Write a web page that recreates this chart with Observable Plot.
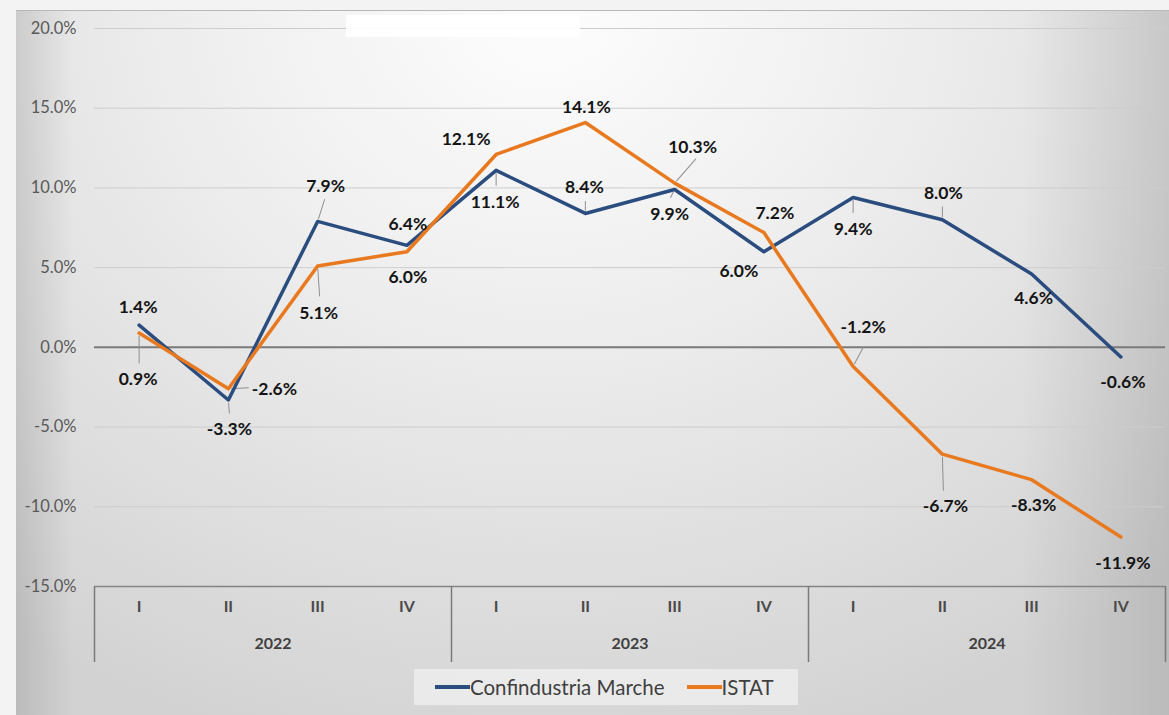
<!DOCTYPE html>
<html>
<head>
<meta charset="utf-8">
<script src="https://cdn.jsdelivr.net/npm/d3@7"></script>
<script src="https://cdn.jsdelivr.net/npm/@observablehq/plot@0.6"></script>
<style>
  html, body { margin: 0; padding: 0; width: 1169px; height: 715px; overflow: hidden; background: #f3f3f3; font-family: Lato, "Noto Sans", sans-serif; }
  #chart {
    position: absolute; left: 16px; top: 10px; width: 1153px; height: 705px;
    background:
      linear-gradient(to right, rgba(0,0,0,0.11) 0%, rgba(0,0,0,0.0) 5%, rgba(0,0,0,0) 87%, rgba(0,0,0,0.11) 100%),
      radial-gradient(ellipse 78% 110% at 46% 0%, #fdfdfd 0%, #f0f0f0 35%, #e0e0e0 70%, #d2d2d2 100%);
    box-shadow: inset 0 1px 0 #b8b8b8;
  }
  #plot { position: absolute; left: 0; top: 0; }
  #mask { position: absolute; left: 330px; top: 5px; width: 234px; height: 22px; background: rgba(255,255,255,0.92); }
  #legend {
    position: absolute; left: 398px; top: 659px; width: 384px; height: 36px;
    background: rgba(240,240,240,0.75);
    display: flex; align-items: center; padding-left: 21px; box-sizing: border-box;
    font-size: 20.5px; color: #404040;
  }
  #legend .sw { display: inline-block; width: 35px; height: 3.5px; margin-right: 0; }
  #legend .item { display: flex; align-items: center; margin-right: 22px; }
</style>
</head>
<body>
<div id="chart">
  <div id="plot"></div>
  <div id="mask"></div>
  <div id="legend"></div>
</div>
<script>
// ---- data ----
const quarters = ["I", "II", "III", "IV", "I", "II", "III", "IV", "I", "II", "III", "IV"];
const years = ["2022", "2022", "2022", "2022", "2023", "2023", "2023", "2023", "2024", "2024", "2024", "2024"];
const confindustria = [1.4, -3.3, 7.9, 6.4, 11.1, 8.4, 9.9, 6.0, 9.4, 8.0, 4.6, -0.6];
const istat = [0.9, -2.6, 5.1, 6.0, 12.1, 14.1, 10.3, 7.2, -1.2, -6.7, -8.3, -11.9];
const yTicks = [-15, -10, -5, 0, 5, 10, 15, 20];
const seriesNames = ["Confindustria Marche", "ISTAT"];

// ---- label placement (pixel offsets from each point) ----
const confLabelOffsets = [[-1,-18],[1,29],[8,-35],[1,-21],[-1,32],[-1,-26],[-5,25],[-25,20],[0,32],[1,-26],[2,24],[2,25]];
const istatLabelOffsets = [[-1,46],[46,1],[1,47],[1,26],[-30,-15],[1,-15],[18,-36],[11,-19],[10,-39],[3,52],[2,26],[2,26]];
const confLeaders = [null,[1,13],[7,-22],null,[0,15],[0,-12],[-4,8],null,[0,15],[0,-13],null,null];
const istatLeaders = [[0,30],[20,-1],[2,30],null,null,null,[21,-24],null,[10,-19],[1,36],null,null];

const BLUE = "#2b4c7e";
const ORANGE = "#e8791f";

const rows = quarters.map((q, i) => ({i, q, year: years[i], conf: confindustria[i], istat: istat[i]}));
const series = [
  {name: seriesNames[0], key: "conf", color: BLUE, offsets: confLabelOffsets, leaders: confLeaders},
  {name: seriesNames[1], key: "istat", color: ORANGE, offsets: istatLabelOffsets, leaders: istatLeaders}
];

const yearGroups = d3.groups(rows, d => d.year).map(([year, ds]) => ({
  year, center: d3.mean(ds, d => d.i), start: d3.min(ds, d => d.i) - 0.5, end: d3.max(ds, d => d.i) + 0.5
}));
const boundaries = Array.from(new Set(yearGroups.flatMap(g => [g.start, g.end])));

const W = 1153, H = 655;
const mT = 18, mB = 79, mL = 78, mR = 4;
const frameH = H - mT - mB;

const leaderShape = {
  draw(context, l) { context.moveTo(0, -Math.min(3, l)); context.lineTo(0, -l); }
};

const fmt = v => v.toFixed(1) + "%";

const leaderMarks = [];
const labelMarks = [];
for (const s of series) {
  rows.forEach((d, idx) => {
    const ld = s.leaders[idx];
    if (ld) {
      const [dx, dy] = ld;
      leaderMarks.push(Plot.vector([d], {
        x: "i", y: s.key, anchor: "start",
        length: Math.hypot(dx, dy),
        rotate: Math.atan2(dx, -dy) * 180 / Math.PI,
        shape: leaderShape, stroke: "#8f8f8f", strokeWidth: 1
      }));
    }
    const [ox, oy] = s.offsets[idx];
    labelMarks.push(Plot.text([d], {
      x: "i", y: s.key, text: dd => fmt(dd[s.key]), dx: ox, dy: oy,
      fontSize: 17.5, fontWeight: "bold", fill: "#141414"
    }));
  });
}

const chart = Plot.plot({
  width: W, height: H,
  marginTop: mT, marginBottom: mB, marginLeft: mL, marginRight: mR,
  style: {fontFamily: "Lato, 'Noto Sans', sans-serif", background: "transparent", overflow: "visible"},
  x: {domain: [-0.5, 11.5], axis: null},
  y: {domain: [-15, 20], axis: null},
  marks: [
    Plot.gridY(yTicks.filter(t => t > -15 && t !== 0), {stroke: "#cdcdcd", strokeOpacity: 1, strokeWidth: 1}),
    Plot.ruleY([0], {stroke: "#7a7a7a", strokeWidth: 2}),
    Plot.ruleY([-15], {stroke: "#858585", strokeWidth: 1.5}),
    Plot.axisY(yTicks, {tickSize: 0, tickPadding: 18, tickFormat: fmt, fontSize: 16.5, fill: "#595959", label: null}),
    Plot.ruleX(boundaries, {insetTop: frameH, insetBottom: -76, stroke: "#7a7a7a", strokeWidth: 1.5}),
    Plot.text(rows, {x: "i", text: "q", frameAnchor: "bottom", dy: 25, fontSize: 16, fontWeight: "bold", fill: "#4a4a4a"}),
    Plot.text(yearGroups, {x: "center", text: "year", frameAnchor: "bottom", dy: 62, fontSize: 16, fontWeight: "bold", fill: "#404040"}),
    ...leaderMarks,
    ...series.map(s => Plot.line(rows, {x: "i", y: s.key, stroke: s.color, strokeWidth: 3.5, strokeLinejoin: "round"})),
    ...labelMarks
  ]
});
document.getElementById("plot").appendChild(chart);

const legend = document.getElementById("legend");
for (const s of series) {
  const item = document.createElement("span");
  item.className = "item";
  const sw = document.createElement("span");
  sw.className = "sw";
  sw.style.background = s.color;
  item.appendChild(sw);
  item.appendChild(document.createTextNode(s.name));
  legend.appendChild(item);
}
</script>
</body>
</html>
